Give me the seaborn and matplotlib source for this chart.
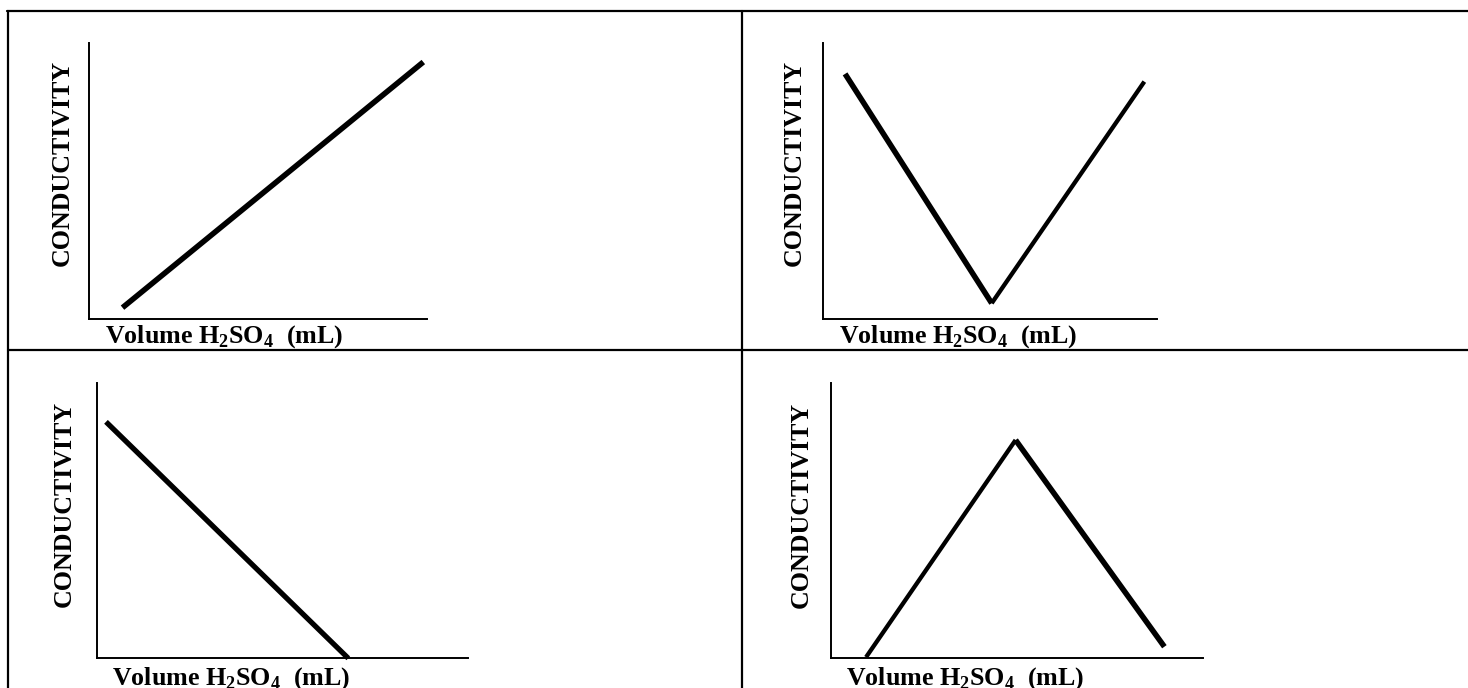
import matplotlib
matplotlib.use("Agg")
import matplotlib.pyplot as plt
import seaborn as sns
from matplotlib.lines import Line2D

x_label = r"Volume H$_\mathbf{2}$SO$_\mathbf{4}$  (mL)"
y_label = "CONDUCTIVITY"

# sketch values, axis units 0-10 on both axes
linear_up_volume = [1.0, 9.9]
linear_up_conductivity = [0.4, 9.3]

v_shape_volume = [0.67, 5.06, 9.63]
v_shape_conductivity = [8.87, 0.56, 8.59]

linear_down_volume = [0.25, 6.77]
linear_down_conductivity = [8.58, 0.0]

peak_volume = [0.95, 4.97, 8.97]
peak_conductivity = [0.04, 7.92, 0.42]

W, H = 1468, 688

sns.set_style("white")
plt.rcParams["font.family"] = ["Liberation Serif", "DejaVu Serif"]
plt.rcParams["text.color"] = "black"
plt.rcParams["axes.labelcolor"] = "black"
plt.rcParams["mathtext.fontset"] = "custom"
plt.rcParams["mathtext.rm"] = "Liberation Serif:bold"
plt.rcParams["mathtext.bf"] = "Liberation Serif:bold"

fig = plt.figure(figsize=(W / 100, H / 100), dpi=100)
fig.patch.set_facecolor("white")


def fx(px):
    return px / W


def fy(py):
    return 1 - py / H


# table grid lines
grid_kw = dict(color="black", lw=1.6, transform=fig.transFigure)
fig.add_artist(Line2D([fx(7), 1], [fy(11), fy(11)], **grid_kw))
fig.add_artist(Line2D([fx(7.5), fx(7.5)], [fy(11), 0], **grid_kw))
fig.add_artist(Line2D([fx(742), fx(742)], [fy(11), 0], **grid_kw))
fig.add_artist(Line2D([fx(7.5), 1], [fy(350), fy(350)], **grid_kw))

# (left, right, top, bottom) pixel boxes, data, segment widths, label positions
panels = [
    ((88.7, 426.7, 42.7, 318.7), linear_up_volume, linear_up_conductivity,
     [4.0], (0.400, -0.066), (-0.078, 0.564)),
    ((822.7, 1156.7, 42.7, 318.7), v_shape_volume, v_shape_conductivity,
     [4.0, 3.1], (0.406, -0.066), (-0.086, 0.566)),
    ((96.7, 468.3, 382.7, 658.3), linear_down_volume, linear_down_conductivity,
     [3.8], (0.361, -0.072), (-0.088, 0.560)),
    ((830.7, 1202.7, 382.7, 658.3), peak_volume, peak_conductivity,
     [3.1, 4.0], (0.361, -0.072), (-0.080, 0.558)),
]

for box, vol, cond, widths, xl_pos, yl_pos in panels:
    x0, x1, top, bottom = box
    ax = fig.add_axes([fx(x0), fy(bottom), (x1 - x0) / W, (bottom - top) / H])
    ax.set_facecolor("none")
    for i, lw in enumerate(widths):
        sns.lineplot(x=vol[i:i + 2], y=cond[i:i + 2], ax=ax, color="black",
                     lw=lw, sort=False, legend=False, clip_on=False,
                     solid_capstyle="butt", solid_joinstyle="miter")
    ax.set_xlim(0, 10)
    ax.set_ylim(0, 10)
    ax.set_xticks([])
    ax.set_yticks([])
    for side in ["top", "right"]:
        ax.spines[side].set_visible(False)
    for side in ["left", "bottom"]:
        ax.spines[side].set_color("black")
        ax.spines[side].set_linewidth(1.4)

    ax.set_xlabel(x_label, fontsize=18.7, fontweight="bold", color="black")
    ax.xaxis.set_label_coords(*xl_pos)
    ax.xaxis.label.set_va("center")
    ax.set_ylabel(y_label, fontsize=18.7, fontweight="bold", color="black")
    ax.yaxis.set_label_coords(*yl_pos)
    ax.yaxis.label.set_va("center")

fig.savefig("out.png", dpi=100, facecolor="white")
